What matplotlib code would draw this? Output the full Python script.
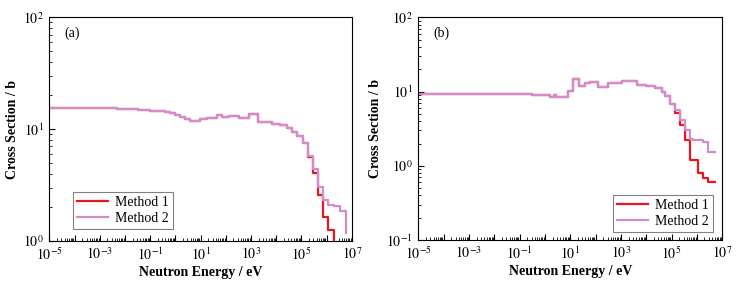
import numpy as np
import matplotlib
matplotlib.use("Agg")
import matplotlib.pyplot as plt
from matplotlib.ticker import LogLocator, FuncFormatter, NullFormatter

plt.rcParams['font.family'] = ['Liberation Serif', 'DejaVu Serif']
plt.rcParams['mathtext.fontset'] = 'stix'

# ---------------- data (log10 of energy in eV for group edges, cross sections in b)
a_log_edges = [-5, -4, -3, -2.3, -1.5, -1, -0.4, -0.2, 0, 0.2, 0.4, 0.58, 0.98, 1.25,
               1.67, 1.84, 2.14, 2.53, 2.94, 3.29, 3.83, 4.15, 4.42, 4.62, 4.82, 5.06,
               5.28, 5.48, 5.67, 5.87, 6.07, 6.30, 6.54, 6.77, 6.78]
a_method2 = [15.4, 15.4, 15.3, 15.1, 14.8, 14.5, 14.2, 13.9, 13.4, 12.8, 12.2,
             11.7, 12.3, 12.5, 13.4, 12.8, 13.2, 12.6, 13.6,
             11.6, 11.1, 10.8, 10.2, 9.5, 8.6, 7.5,
             5.75, 4.38, 3.06, 2.33, 2.10, 2.05, 1.85, 1.17]
a_method1 = [15.4, 15.4, 15.3, 15.1, 14.8, 14.5, 14.2, 13.9, 13.4, 12.8, 12.2,
             11.7, 12.3, 12.5, 13.4, 12.8, 13.2, 12.6, 13.6,
             11.6, 11.1, 10.8, 10.2, 9.5, 8.6, 7.5,
             5.6, 4.08, 2.58, 1.65, 1.25, 0.8, 0.6, 0.6]

b_log_edges = [-5, -3, -1, -0.5, 0, 0.2, 0.36, 0.45, 0.92, 1.09, 1.35, 1.57, 1.77,
               2.10, 2.50, 3.06, 3.24, 3.64, 4.0, 4.34, 4.61, 4.74, 4.94, 5.13, 5.33,
               5.53, 5.72, 5.86, 6.05, 6.25, 6.45, 6.71]
b_method2 = [9.3, 9.3, 9.2, 9.1, 8.9, 8.6, 9.1, 8.5, 10.3, 14.7,
             11.9, 12.9, 13.6, 11.6, 12.9, 14.0, 13.8, 12.3, 12.0, 11.1,
             10.0, 8.7, 6.9, 5.6, 4.1, 3.0, 2.28, 2.25, 2.2, 2.1, 1.55]
b_method1 = [9.3, 9.3, 9.2, 9.1, 8.9, 8.6, 9.1, 8.5, 10.3, 14.7,
             11.9, 12.9, 13.6, 11.6, 12.9, 14.0, 13.8, 12.3, 12.0, 11.1,
             10.0, 8.7, 6.9, 5.1, 3.5, 2.2, 1.2, 1.2, 0.79, 0.68, 0.6]

series_labels = ["Method 1", "Method 2"]
panel_labels = ["(a)", "(b)"]
xlim = (1e-5, 1e7)
ylims = [(1, 100), (0.1, 100)]

RED = "#e8161e"
PINK = "#d28ccb"

fig = plt.figure(figsize=(7.43, 2.91), dpi=100)
axa = fig.add_axes([0.0664, 0.1718, 0.407, 0.769])
axb = fig.add_axes([0.563, 0.175, 0.409, 0.765])


def step_xy(log_edges, vals):
    x = 10.0 ** np.asarray(log_edges, dtype=float)
    y = np.append(np.asarray(vals, dtype=float), vals[-1])
    return x, y


def sup_fmt(v, pos):
    e = int(round(np.log10(v)))
    if e % 2 == 0:
        return ""
    return r"$10^{%d}$" % e


def yfmt(v, pos):
    e = int(round(np.log10(v)))
    return r"$10^{%d}$" % e


for ax, edges, m1, m2, yl, pl, loc, anchor in [
        (axa, a_log_edges, a_method1, a_method2, ylims[0], panel_labels[0],
         "lower left", (0.078, 0.054)),
        (axb, b_log_edges, b_method1, b_method2, ylims[1], panel_labels[1],
         "lower right", (0.969, 0.036))]:
    x1, y1 = step_xy(edges, m1)
    x2, y2 = step_xy(edges, m2)
    ax.plot(x1, y1, drawstyle="steps-post", color=RED, lw=1.6, label=series_labels[0])
    ax.plot(x2, y2, drawstyle="steps-post", color=PINK, lw=1.6, label=series_labels[1])
    ax.set_xscale("log")
    ax.set_yscale("log")
    ax.set_xlim(*xlim)
    ax.set_ylim(*yl)
    ax.xaxis.set_major_locator(LogLocator(base=10, numticks=20))
    ax.xaxis.set_minor_locator(LogLocator(base=10, subs=np.arange(2, 10), numticks=20))
    ax.xaxis.set_major_formatter(FuncFormatter(sup_fmt))
    ax.xaxis.set_minor_formatter(NullFormatter())
    ax.yaxis.set_major_locator(LogLocator(base=10, numticks=10))
    ax.yaxis.set_minor_locator(LogLocator(base=10, subs=np.arange(2, 10), numticks=10))
    ax.yaxis.set_major_formatter(FuncFormatter(yfmt))
    ax.yaxis.set_minor_formatter(NullFormatter())
    ax.tick_params(axis="both", which="both", direction="in", top=False, right=False,
                   labelsize=10, pad=4)
    ax.tick_params(which="major", length=4, width=0.8)
    ax.tick_params(which="minor", length=2, width=0.6)
    for s in ax.spines.values():
        s.set_linewidth(0.8)
    ax.set_xlabel("Neutron Energy / eV", fontsize=10, fontweight="bold", labelpad=2)
    ax.set_ylabel("Cross Section / b", fontsize=10, fontweight="bold", labelpad=3)
    ax.text(0.05, 0.93, pl, transform=ax.transAxes, fontsize=10, va="center", ha="left")
    leg = ax.legend(loc=loc, bbox_to_anchor=anchor, fontsize=10, frameon=True,
                    fancybox=False, edgecolor="#808080", framealpha=1,
                    handlelength=2.2, borderpad=0.3, labelspacing=0.2,
                    handletextpad=0.5, borderaxespad=0.0)
    leg.get_frame().set_linewidth(0.8)

fig.savefig("out.png", dpi=100)
